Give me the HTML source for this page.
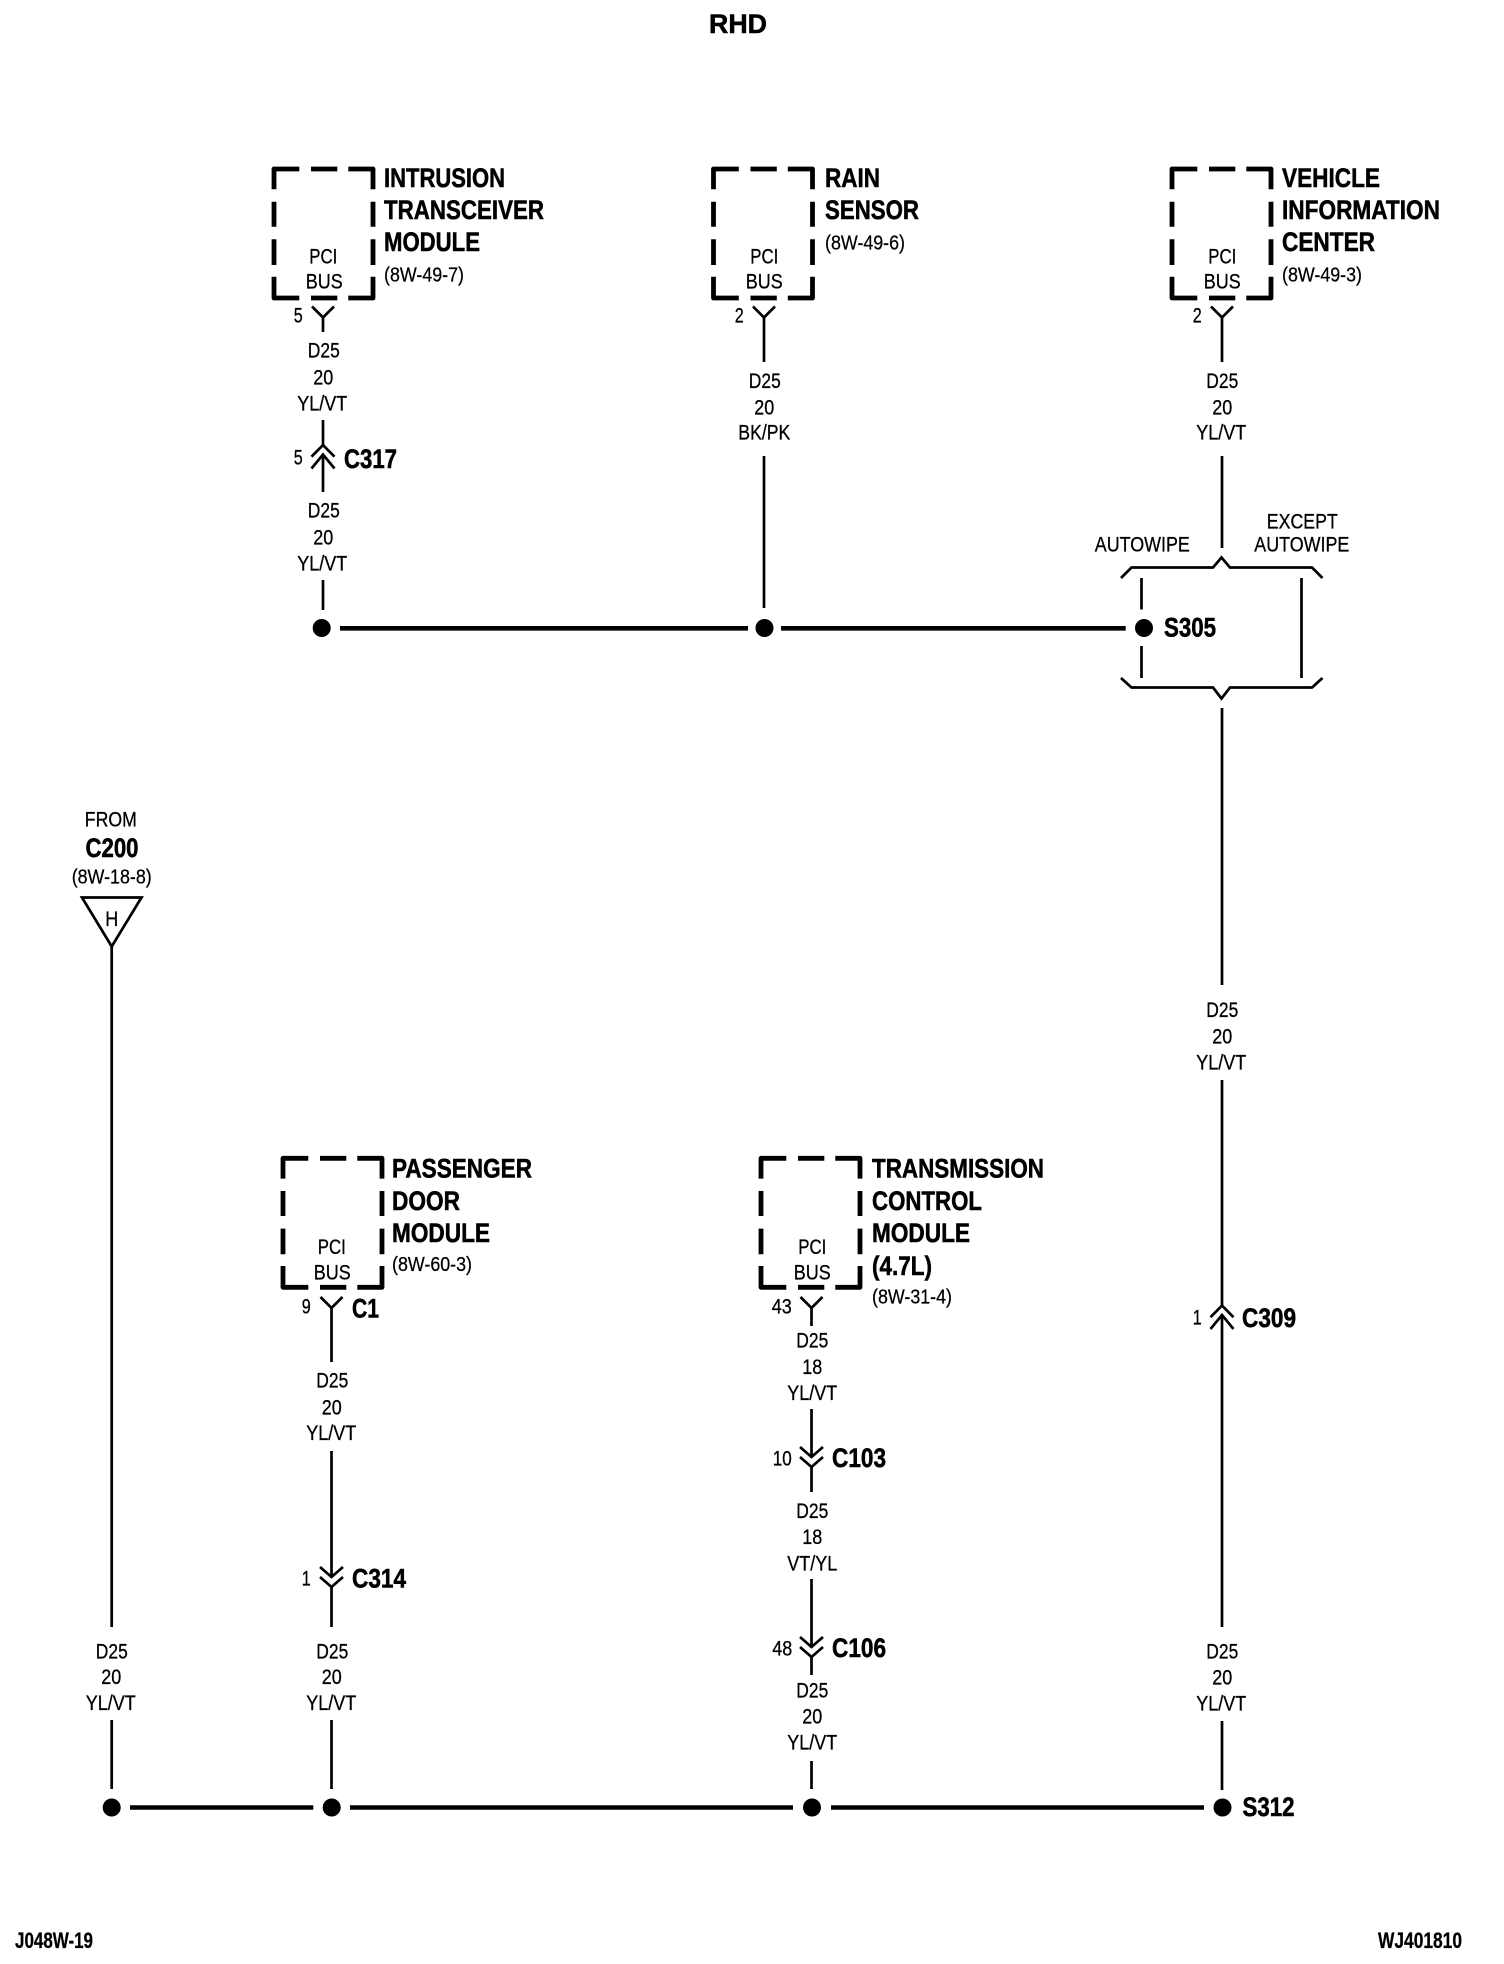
<!DOCTYPE html>
<html><head><meta charset="utf-8"><style>
html,body{margin:0;padding:0;background:#fff}
svg{display:block}
text{font-family:"Liberation Sans",sans-serif;fill:#000;stroke:#000}
.b{font-weight:700;font-size:27px;stroke-width:.55px;transform:translateY(-1px)}
.f{font-weight:700;font-size:22px;stroke-width:.3px}
.r{font-size:21.5px;text-anchor:middle;stroke-width:.3px;transform:translate(-.7px,-.7px)}
.s{font-size:20px;stroke-width:.25px;transform:translateY(-.5px)}
.m{text-anchor:middle}
.w{fill:none;stroke:#000;stroke-width:2.7}
.bus{fill:none;stroke:#000;stroke-width:4.6}
</style></head><body>
<svg width="1504" height="1964" viewBox="0 0 1504 1964" xmlns="http://www.w3.org/2000/svg">
<defs>
<path id="box" fill="none" stroke="#000" stroke-width="4.8" stroke-linejoin="round" d="M0,20.3V0H25.3M37,0H63.3M74.3,0H99V20.3M0,32.7V57.7M0,70.3V96M0,107.7V129H25.3M37,129H63.3M74.3,129H99V107.7M99,32.7V57.7M99,70.3V96"/>
<path id="y" fill="none" stroke="#000" stroke-width="2.7" d="M-11,0L0,11L11,0"/>
<path id="up" fill="none" stroke="#000" stroke-width="2.7" d="M-11.5,11.7L0,0L11.5,11.7M-11.5,23.5L0,9.5L11.5,23.5"/>
<path id="dn" fill="none" stroke="#000" stroke-width="2.7" d="M-11.5,-10L0,0L11.5,-10M-11.5,0L0,10L11.5,0"/>
</defs>

<text class="b m" x="738" y="34" textLength="58" lengthAdjust="spacingAndGlyphs">RHD</text>

<!-- boxes -->
<use href="#box" x="274" y="169"/>
<use href="#box" x="713.5" y="169"/>
<use href="#box" x="1172" y="169"/>
<use href="#box" x="283" y="1158.3"/>
<use href="#box" x="761" y="1158.3"/>

<!-- intrusion -->
<text class="b" x="384" y="188" textLength="121" lengthAdjust="spacingAndGlyphs">INTRUSION</text>
<text class="b" x="384" y="220" textLength="160" lengthAdjust="spacingAndGlyphs">TRANSCEIVER</text>
<text class="b" x="384" y="252" textLength="96" lengthAdjust="spacingAndGlyphs">MODULE</text>
<text class="s" x="384" y="282" textLength="80" lengthAdjust="spacingAndGlyphs">(8W-49-7)</text>
<text class="r" x="324" y="264" textLength="28" lengthAdjust="spacingAndGlyphs">PCI</text>
<text class="r" x="325" y="289" textLength="37" lengthAdjust="spacingAndGlyphs">BUS</text>
<text class="r" x="299" y="323" textLength="9" lengthAdjust="spacingAndGlyphs">5</text>
<use href="#y" x="323" y="306.5"/>
<path class="w" d="M323,317.5V332M323,420V445M323,454V492M323,580V610"/>
<text class="r" x="324.5" y="358" textLength="32" lengthAdjust="spacingAndGlyphs">D25</text>
<text class="r" x="324" y="385" textLength="20" lengthAdjust="spacingAndGlyphs">20</text>
<text class="r" x="323" y="411" textLength="50" lengthAdjust="spacingAndGlyphs">YL/VT</text>
<use href="#up" x="323" y="445"/>
<text class="r" x="299" y="465" textLength="9" lengthAdjust="spacingAndGlyphs">5</text>
<text class="b" x="344" y="469" textLength="53" lengthAdjust="spacingAndGlyphs">C317</text>
<text class="r" x="324.5" y="518" textLength="32" lengthAdjust="spacingAndGlyphs">D25</text>
<text class="r" x="324" y="545" textLength="20" lengthAdjust="spacingAndGlyphs">20</text>
<text class="r" x="323" y="571" textLength="50" lengthAdjust="spacingAndGlyphs">YL/VT</text>

<!-- rain -->
<text class="b" x="825" y="188" textLength="55" lengthAdjust="spacingAndGlyphs">RAIN</text>
<text class="b" x="825" y="220" textLength="94" lengthAdjust="spacingAndGlyphs">SENSOR</text>
<text class="s" x="825" y="250" textLength="80" lengthAdjust="spacingAndGlyphs">(8W-49-6)</text>
<text class="r" x="765" y="264" textLength="28" lengthAdjust="spacingAndGlyphs">PCI</text>
<text class="r" x="765" y="289" textLength="37" lengthAdjust="spacingAndGlyphs">BUS</text>
<text class="r" x="740" y="323" textLength="9" lengthAdjust="spacingAndGlyphs">2</text>
<use href="#y" x="764" y="306.5"/>
<path class="w" d="M764,317.5V362M764,456V608"/>
<text class="r" x="765.5" y="388.5" textLength="32" lengthAdjust="spacingAndGlyphs">D25</text>
<text class="r" x="765" y="415" textLength="20" lengthAdjust="spacingAndGlyphs">20</text>
<text class="r" x="765" y="440" textLength="52" lengthAdjust="spacingAndGlyphs">BK/PK</text>

<!-- VIC -->
<text class="b" x="1282" y="188" textLength="98" lengthAdjust="spacingAndGlyphs">VEHICLE</text>
<text class="b" x="1282" y="220" textLength="158" lengthAdjust="spacingAndGlyphs">INFORMATION</text>
<text class="b" x="1282" y="252" textLength="93" lengthAdjust="spacingAndGlyphs">CENTER</text>
<text class="s" x="1282" y="282" textLength="80" lengthAdjust="spacingAndGlyphs">(8W-49-3)</text>
<text class="r" x="1223" y="264" textLength="28" lengthAdjust="spacingAndGlyphs">PCI</text>
<text class="r" x="1223" y="289" textLength="37" lengthAdjust="spacingAndGlyphs">BUS</text>
<text class="r" x="1198" y="323" textLength="9" lengthAdjust="spacingAndGlyphs">2</text>
<use href="#y" x="1222" y="306.5"/>
<path class="w" d="M1222,317.5V362M1222,456V548M1222,708V985M1222,1080V1305.5M1222,1315V1627M1222,1721V1790"/>
<text class="r" x="1223" y="388.5" textLength="32" lengthAdjust="spacingAndGlyphs">D25</text>
<text class="r" x="1223" y="415" textLength="20" lengthAdjust="spacingAndGlyphs">20</text>
<text class="r" x="1222" y="440" textLength="50" lengthAdjust="spacingAndGlyphs">YL/VT</text>

<!-- S305 bracket -->
<text class="r" x="1143" y="552" textLength="95" lengthAdjust="spacingAndGlyphs">AUTOWIPE</text>
<text class="r" x="1303" y="529" textLength="71" lengthAdjust="spacingAndGlyphs">EXCEPT</text>
<text class="r" x="1302.5" y="552" textLength="95" lengthAdjust="spacingAndGlyphs">AUTOWIPE</text>
<path class="w" d="M1121,578L1131.5,567.5H1213L1221.5,557.5L1230,567.5H1312L1322.5,578"/>
<path class="w" d="M1121,678L1131.5,687.5H1213L1221.5,698.5L1230,687.5H1312L1322.5,678"/>
<path class="w" d="M1141.5,578V609.5M1141.5,646V678M1301.5,578V678"/>
<circle cx="1144" cy="628" r="9"/>
<text class="b" x="1164" y="637.5" textLength="52" lengthAdjust="spacingAndGlyphs">S305</text>
<path class="bus" d="M340,628.3H748M781,628.3H1125.7"/>
<circle cx="321.7" cy="628" r="9"/>
<circle cx="764.5" cy="628" r="9"/>

<text class="r" x="1223" y="1017.5" textLength="32" lengthAdjust="spacingAndGlyphs">D25</text>
<text class="r" x="1223" y="1044" textLength="20" lengthAdjust="spacingAndGlyphs">20</text>
<text class="r" x="1222" y="1070" textLength="50" lengthAdjust="spacingAndGlyphs">YL/VT</text>
<use href="#up" x="1222" y="1305.5"/>
<text class="r" x="1198" y="1325" textLength="9" lengthAdjust="spacingAndGlyphs">1</text>
<text class="b" x="1242" y="1328" textLength="54" lengthAdjust="spacingAndGlyphs">C309</text>
<text class="r" x="1223" y="1659" textLength="32" lengthAdjust="spacingAndGlyphs">D25</text>
<text class="r" x="1223" y="1685" textLength="20" lengthAdjust="spacingAndGlyphs">20</text>
<text class="r" x="1222" y="1711" textLength="50" lengthAdjust="spacingAndGlyphs">YL/VT</text>

<!-- C200 -->
<text class="r" x="111.5" y="827" textLength="52" lengthAdjust="spacingAndGlyphs">FROM</text>
<text class="b m" x="112" y="858" textLength="53" lengthAdjust="spacingAndGlyphs">C200</text>
<text class="s m" x="111.7" y="884" textLength="80" lengthAdjust="spacingAndGlyphs">(8W-18-8)</text>
<path class="w" d="M82,897.5H141.5L111.7,946.5Z"/>
<text class="r" x="112.4" y="926.5" textLength="13" lengthAdjust="spacingAndGlyphs">H</text>
<path class="w" d="M111.7,946.5V1627M111.7,1720V1789"/>
<text class="r" x="112.5" y="1659" textLength="32" lengthAdjust="spacingAndGlyphs">D25</text>
<text class="r" x="112" y="1684.5" textLength="20" lengthAdjust="spacingAndGlyphs">20</text>
<text class="r" x="111.5" y="1710.5" textLength="50" lengthAdjust="spacingAndGlyphs">YL/VT</text>

<!-- passenger -->
<text class="b" x="392" y="1178.5" textLength="140" lengthAdjust="spacingAndGlyphs">PASSENGER</text>
<text class="b" x="392" y="1211" textLength="68" lengthAdjust="spacingAndGlyphs">DOOR</text>
<text class="b" x="392" y="1243" textLength="98" lengthAdjust="spacingAndGlyphs">MODULE</text>
<text class="s" x="392" y="1271.5" textLength="80" lengthAdjust="spacingAndGlyphs">(8W-60-3)</text>
<text class="r" x="332.5" y="1254.5" textLength="28" lengthAdjust="spacingAndGlyphs">PCI</text>
<text class="r" x="333" y="1280" textLength="37" lengthAdjust="spacingAndGlyphs">BUS</text>
<text class="r" x="307" y="1314" textLength="9" lengthAdjust="spacingAndGlyphs">9</text>
<text class="b" x="352" y="1318.5" textLength="27" lengthAdjust="spacingAndGlyphs">C1</text>
<use href="#y" x="331.5" y="1297"/>
<path class="w" d="M331.5,1308V1362M331.5,1451V1577M331.5,1587V1627M331.5,1720V1789"/>
<text class="r" x="333" y="1388" textLength="32" lengthAdjust="spacingAndGlyphs">D25</text>
<text class="r" x="332.5" y="1415" textLength="20" lengthAdjust="spacingAndGlyphs">20</text>
<text class="r" x="332" y="1440.5" textLength="50" lengthAdjust="spacingAndGlyphs">YL/VT</text>
<use href="#dn" x="331.5" y="1577"/>
<text class="r" x="307" y="1586" textLength="9" lengthAdjust="spacingAndGlyphs">1</text>
<text class="b" x="352" y="1588.5" textLength="54" lengthAdjust="spacingAndGlyphs">C314</text>
<text class="r" x="333" y="1659" textLength="32" lengthAdjust="spacingAndGlyphs">D25</text>
<text class="r" x="332.5" y="1684.5" textLength="20" lengthAdjust="spacingAndGlyphs">20</text>
<text class="r" x="332" y="1710.5" textLength="50" lengthAdjust="spacingAndGlyphs">YL/VT</text>

<!-- TCM -->
<text class="b" x="872" y="1178.5" textLength="172" lengthAdjust="spacingAndGlyphs">TRANSMISSION</text>
<text class="b" x="872" y="1211" textLength="110" lengthAdjust="spacingAndGlyphs">CONTROL</text>
<text class="b" x="872" y="1243" textLength="98" lengthAdjust="spacingAndGlyphs">MODULE</text>
<text class="b" x="872" y="1276" textLength="60" lengthAdjust="spacingAndGlyphs">(4.7L)</text>
<text class="s" x="872" y="1304" textLength="80" lengthAdjust="spacingAndGlyphs">(8W-31-4)</text>
<text class="r" x="813" y="1254.5" textLength="28" lengthAdjust="spacingAndGlyphs">PCI</text>
<text class="r" x="813" y="1280" textLength="37" lengthAdjust="spacingAndGlyphs">BUS</text>
<text class="r" x="782.5" y="1314" textLength="20" lengthAdjust="spacingAndGlyphs">43</text>
<use href="#y" x="811.5" y="1297"/>
<path class="w" d="M811.5,1308V1326M811.5,1409V1457M811.5,1467V1492M811.5,1579V1647M811.5,1657V1675M811.5,1761V1789"/>
<text class="r" x="813" y="1348" textLength="32" lengthAdjust="spacingAndGlyphs">D25</text>
<text class="r" x="813" y="1374.5" textLength="20" lengthAdjust="spacingAndGlyphs">18</text>
<text class="r" x="813" y="1400.5" textLength="50" lengthAdjust="spacingAndGlyphs">YL/VT</text>
<use href="#dn" x="811.5" y="1457"/>
<text class="r" x="783" y="1466" textLength="19" lengthAdjust="spacingAndGlyphs">10</text>
<text class="b" x="832" y="1468" textLength="54" lengthAdjust="spacingAndGlyphs">C103</text>
<text class="r" x="813" y="1518.5" textLength="32" lengthAdjust="spacingAndGlyphs">D25</text>
<text class="r" x="813" y="1544.5" textLength="20" lengthAdjust="spacingAndGlyphs">18</text>
<text class="r" x="813" y="1571" textLength="50" lengthAdjust="spacingAndGlyphs">VT/YL</text>
<use href="#dn" x="811.5" y="1647"/>
<text class="r" x="783" y="1656" textLength="20" lengthAdjust="spacingAndGlyphs">48</text>
<text class="b" x="832" y="1658" textLength="54" lengthAdjust="spacingAndGlyphs">C106</text>
<text class="r" x="813" y="1698" textLength="32" lengthAdjust="spacingAndGlyphs">D25</text>
<text class="r" x="813" y="1724" textLength="20" lengthAdjust="spacingAndGlyphs">20</text>
<text class="r" x="813" y="1750" textLength="50" lengthAdjust="spacingAndGlyphs">YL/VT</text>

<!-- bottom bus -->
<path class="bus" d="M130,1807.5H313.3M350,1807.5H793M831,1807.5H1204"/>
<circle cx="111.7" cy="1807.5" r="9"/>
<circle cx="331.7" cy="1807.5" r="9"/>
<circle cx="812" cy="1807.5" r="9"/>
<circle cx="1222.5" cy="1807.5" r="9"/>
<text class="b" x="1242.5" y="1817" textLength="52" lengthAdjust="spacingAndGlyphs">S312</text>

<text class="f" x="15" y="1948" textLength="78" lengthAdjust="spacingAndGlyphs">J048W-19</text>
<text class="f" x="1378" y="1948" textLength="84" lengthAdjust="spacingAndGlyphs">WJ401810</text>
</svg>
</body></html>
